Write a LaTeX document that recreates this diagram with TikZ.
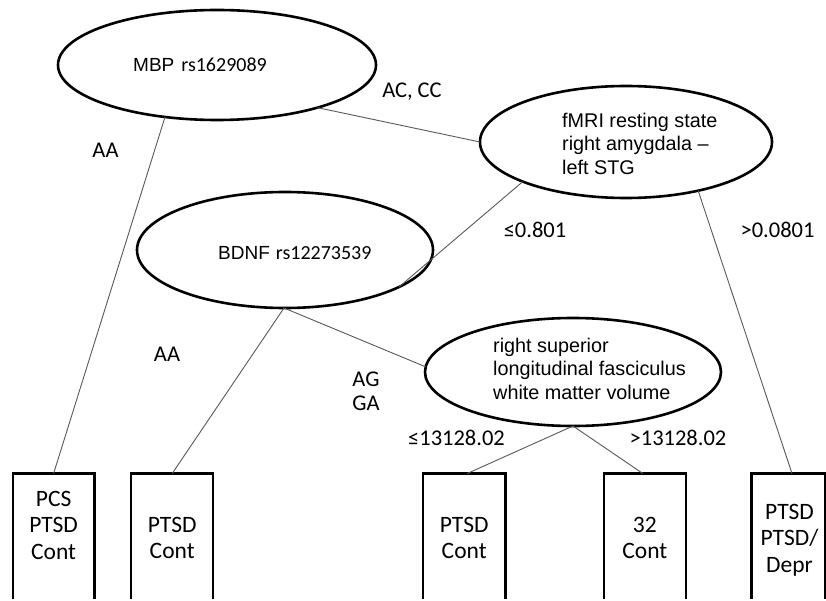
\documentclass[tikz,border=0pt]{standalone}
\usepackage{fontspec}
\setmainfont{Carlito}
\newfontfamily\arialf{Liberation Sans}
\newfontfamily\calf{Carlito}
\usetikzlibrary{shapes.geometric}
\begin{document}
\begin{tikzpicture}[x=1pt,y=-1pt,
  ell/.style={draw=black, line width=2.6pt, ellipse, inner sep=0pt, outer sep=0pt},
  leafbox/.style={draw=black, line width=2.5pt, rectangle, inner sep=0pt, outer sep=0pt, minimum height=160pt, anchor=north},
  conn/.style={draw=black!65, line width=0.9pt},
  lbl/.style={font=\fontsize{22.5}{23.5}\selectfont, inner sep=0pt},
  boxtxt/.style={font=\fontsize{23.5}{26.5}\selectfont, align=center, inner sep=0pt},
  elltxt/.style={font=\arialf\fontsize{19.8}{23.5}\selectfont, align=left, inner sep=0pt, anchor=west},
]
\useasboundingbox (0,0) rectangle (826,601);
\fill[white] (0,0) rectangle (826,601);

% decision ellipses
\node[ell, minimum width=318pt, minimum height=110pt] (mbp) at (217,65) {};
\node[ell, minimum width=292pt, minimum height=112pt] (fmri) at (626,142) {};
\node[ell, minimum width=296pt, minimum height=116pt] (bdnf) at (285,250) {};
\node[ell, minimum width=296pt, minimum height=108pt] (rslf) at (573,372) {};

\node[elltxt] (mbpt) at (133,65) {\fontsize{19}{22}\selectfont MBP\hspace{7pt}{\calf\fontsize{20}{22}\selectfont rs1629089}};
\node[elltxt] (bdnft) at (218,253) {\fontsize{19}{22}\selectfont BDNF\hspace{6pt}{\calf\fontsize{20}{22}\selectfont rs12273539}};
\node[elltxt] (fmrit) at (562,143.5) {fMRI resting state\\right amygdala –\\left STG};
\node[elltxt] (rslft) at (493,368.5) {right superior\\longitudinal fasciculus\\white matter volume};

% leaf boxes (cut by the lower edge)
\begin{scope}
\clip (0,0) rectangle (826,598.3);
\node[leafbox, minimum width=81.7pt] (b1) at (53.6,473.5) {};
\node[leafbox, minimum width=82pt] (b2) at (172.2,473.5) {};
\node[leafbox, minimum width=82.7pt] (b3) at (464.2,473.5) {};
\node[leafbox, minimum width=82pt] (b4) at (644.8,473.5) {};
\node[leafbox, minimum width=73.5pt] (b5) at (788,473.5) {};
\end{scope}

\node[boxtxt] (b1t) at (53.6,525) {PCS\\PTSD\\Cont};
\node[boxtxt] (b2t) at (172.2,538) {PTSD\\Cont};
\node[boxtxt] (b3t) at (464.2,538) {PTSD\\Cont};
\node[boxtxt] (b4t) at (644.8,538) {32\\Cont};
\node[boxtxt] (b5t) at (789.5,540) {PTSD\\PTSD/\\Depr};

% connectors
\draw[conn] (mbp.225) -- (b1.north);
\draw[conn] (mbp.337.8) -- (fmri.180);
\draw[conn] (fmri.201.2) -- (bdnf.342.2);
\draw[conn] (fmri.326.7) -- ([xshift=4pt]b5.north);
\draw[conn] (bdnf.269) -- (b2.north);
\draw[conn] (bdnf.269) -- (rslf.178.5);
\draw[conn] (rslf.270) -- ([xshift=3pt]b3.north);
\draw[conn] (rslf.270) -- ([xshift=-2pt]b4.north);

% branch labels
\node[lbl] (l1) at (105.5,150) {AA};
\node[lbl] (l2) at (412,92) {AC, CC};
\node[lbl] (l3) at (535,230) {≤0.801};
\node[lbl] (l4) at (777.5,230) {>0.0801};
\node[lbl] (l5) at (167,354) {AA};
\node[lbl, align=left] (l6) at (366,391.5) {AG\\GA};
\node[lbl] (l7) at (456.5,438) {≤13128.02};
\node[lbl] (l8) at (678,438) {>13128.02};
\end{tikzpicture}
\end{document}
